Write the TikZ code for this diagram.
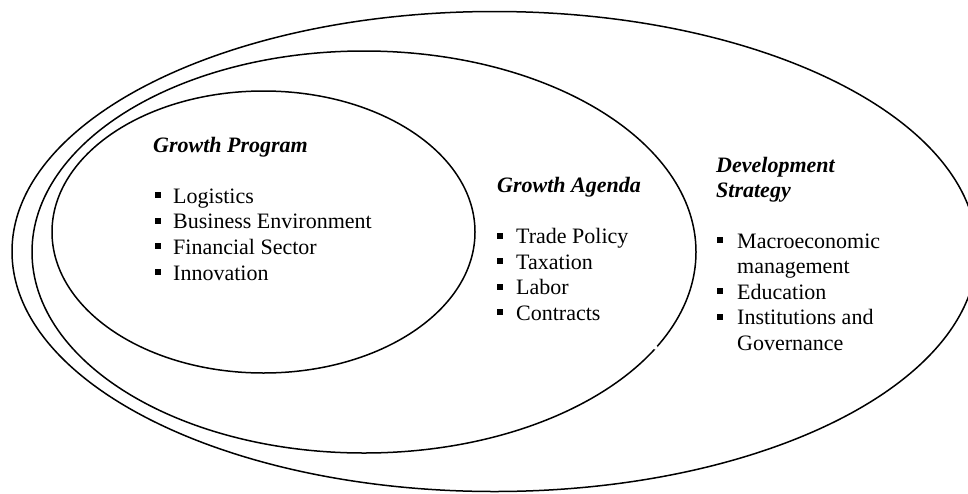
\documentclass[tikz,border=0pt]{standalone}
\usepackage{fontspec}
\setmainfont{Liberation Serif}
\begin{document}
\begin{tikzpicture}[x=1pt,y=-1pt,
  ring/.style={line width=1.5pt, black},
  heading/.style={anchor=base west, inner sep=0pt, font=\fontsize{22}{26}\selectfont\bfseries\itshape},
  entry/.style={anchor=base west, inner sep=0pt, font=\fontsize{22}{26}\selectfont}]
\newcommand{\bul}{\rule[5pt]{6pt}{6pt}}
\useasboundingbox (0,0) rectangle (968,493);
\fill[white] (0,0) rectangle (968,493);

% nested scopes
\draw[ring] (494.5,251.5) ellipse [x radius=482.5, y radius=240];
\draw[ring] (364,252) ellipse [x radius=332, y radius=201];
\draw[ring] (263.5,232) ellipse [x radius=211.5, y radius=141];
% small break in the middle ring
\fill[white] (655.5,347.5) circle [radius=2.2];

% innermost: growth program
\node[heading] (gp) at (153,152) {Growth Program};
\node[entry] (gp1) at (155,203) {\bul\hspace{12pt}Logistics};
\node[entry] (gp2) at (155,228.7) {\bul\hspace{12pt}Business Environment};
\node[entry] (gp3) at (155,254.4) {\bul\hspace{12pt}Financial Sector};
\node[entry] (gp4) at (155,280.1) {\bul\hspace{12pt}Innovation};

% middle: growth agenda
\node[heading] (ga) at (497,192) {Growth Agenda};
\node[entry] (ga1) at (497,243.6) {\bul\hspace{13pt}Trade Policy};
\node[entry] (ga2) at (497,269.2) {\bul\hspace{13pt}Taxation};
\node[entry] (ga3) at (497,294.8) {\bul\hspace{13pt}Labor};
\node[entry] (ga4) at (497,320.4) {\bul\hspace{13pt}Contracts};

% outer: development strategy
\node[heading] (ds) at (716,172) {Development};
\node[heading] (ds0) at (716,197.5) {Strategy};
\node[entry] (ds1) at (717,248.3) {\bul\hspace{14pt}Macroeconomic};
\node[entry] (ds1b) at (737,273.8) {management};
\node[entry] (ds2) at (717,299.3) {\bul\hspace{14pt}Education};
\node[entry] (ds3) at (717,324.8) {\bul\hspace{14pt}Institutions and};
\node[entry] (ds3b) at (737,350.3) {Governance};
\end{tikzpicture}
\end{document}
